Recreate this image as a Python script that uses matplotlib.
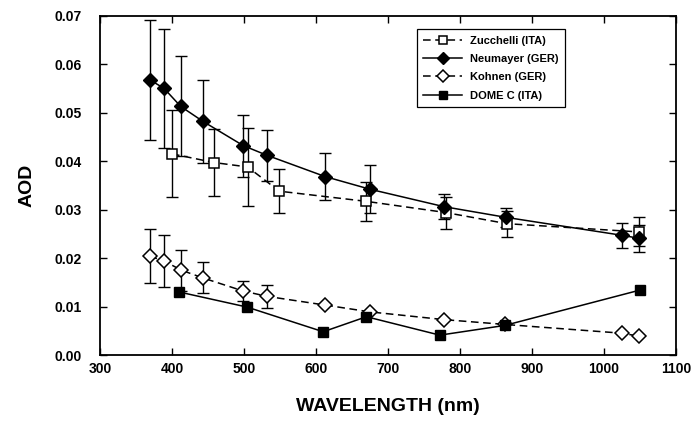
import matplotlib.pyplot as plt
import numpy as np

plt.rcParams['font.family'] = ['Liberation Sans', 'DejaVu Sans']
plt.rcParams['font.weight'] = 'bold'

# Zucchelli (ITA)
zuc_wl = [400, 459, 505, 549, 670, 780, 865, 1048]
zuc_aod = [0.0415, 0.0397, 0.0388, 0.0338, 0.0317, 0.0294, 0.0271, 0.0254]
zuc_err = [0.0090, 0.0069, 0.0080, 0.0046, 0.0040, 0.0033, 0.0027, 0.0030]

# Neumayer (GER)
neu_wl = [369, 389, 412, 443, 499, 532, 613, 675, 778, 864, 1025, 1048]
neu_aod = [0.0568, 0.0550, 0.0513, 0.0482, 0.0432, 0.0412, 0.0368, 0.0342,
           0.0306, 0.0284, 0.0247, 0.0241]
neu_err = [0.0124, 0.0123, 0.0103, 0.0085, 0.0064, 0.0053, 0.0049, 0.0050,
           0.0026, 0.0019, 0.0026, 0.0028]

# Kohnen (GER)
koh_wl = [369, 389, 413, 443, 499, 532, 613, 675, 778, 863, 1025, 1048]
koh_aod = [0.0204, 0.0194, 0.0175, 0.0159, 0.0132, 0.0121, 0.0103, 0.0089,
           0.0073, 0.0063, 0.0045, 0.0039]
koh_err = [0.0055, 0.0054, 0.0042, 0.0032, 0.0021, 0.0023, 0, 0, 0, 0, 0, 0]

# DOME C (ITA)
dom_wl = [410, 504, 610, 670, 772, 862, 1050]
dom_aod = [0.0130, 0.0099, 0.0048, 0.0079, 0.0041, 0.0061, 0.0134]

fig = plt.figure(figsize=(6.95, 4.37), dpi=100)
ax = fig.add_axes([0.1439, 0.1876, 0.8288, 0.7764])

ebkw = dict(fmt='none', ecolor='black', elinewidth=1, capsize=4, capthick=1, zorder=2)


def draw_err(wl, aod, err):
    wl = np.array(wl)
    aod = np.array(aod)
    err = np.array(err)
    m = err > 0
    ax.errorbar(wl[m], aod[m], yerr=err[m], **ebkw)


draw_err(zuc_wl, zuc_aod, zuc_err)
draw_err(neu_wl, neu_aod, neu_err)
draw_err(koh_wl, koh_aod, koh_err)

dash = (0, (5, 3))
ax.plot(zuc_wl, zuc_aod, color='black', lw=1.1, linestyle=dash, marker='s', ms=7,
        mfc='white', mec='black', mew=1.1, label='Zucchelli (ITA)', zorder=3)
ax.plot(neu_wl, neu_aod, color='black', lw=1.1, linestyle='-', marker='D', ms=7,
        mfc='black', mec='black', label='Neumayer (GER)', zorder=4)
ax.plot(koh_wl, koh_aod, color='black', lw=1.1, linestyle=dash, marker='D', ms=7,
        mfc='white', mec='black', mew=1.1, label='Kohnen (GER)', zorder=3)
ax.plot(dom_wl, dom_aod, color='black', lw=1.1, linestyle='-', marker='s', ms=6.5,
        mfc='black', mec='black', label='DOME C (ITA)', zorder=4)

ax.set_xlim(300, 1100)
ax.set_ylim(0, 0.07)
ax.set_xticks(np.arange(300, 1101, 100))
ax.set_yticks(np.arange(0, 0.0701, 0.01))
ax.yaxis.set_major_formatter(plt.FormatStrFormatter('%.2f'))
ax.tick_params(direction='in', length=5, width=1, top=True, right=True,
               labelsize=10)
ax.tick_params(axis='x', pad=5)
ax.tick_params(axis='y', pad=13)
for lab in ax.get_xticklabels() + ax.get_yticklabels():
    lab.set_fontweight('bold')
for s in ax.spines.values():
    s.set_linewidth(1.3)

ax.set_xlabel('WAVELENGTH (nm)', fontsize=14, fontweight='bold', labelpad=16)
ax.set_ylabel('AOD', fontsize=14, fontweight='bold', labelpad=14)

leg = ax.legend(loc='upper left', bbox_to_anchor=(0.550, 0.961), fontsize=8,
                frameon=True, fancybox=False, edgecolor='black', framealpha=1,
                handlelength=3.5, handletextpad=0.7, borderpad=0.6,
                labelspacing=0.75, borderaxespad=0, markerscale=0.85)
leg.get_frame().set_linewidth(0.9)
for t in leg.get_texts():
    t.set_fontweight('bold')

fig.savefig('out.png', dpi=100)
